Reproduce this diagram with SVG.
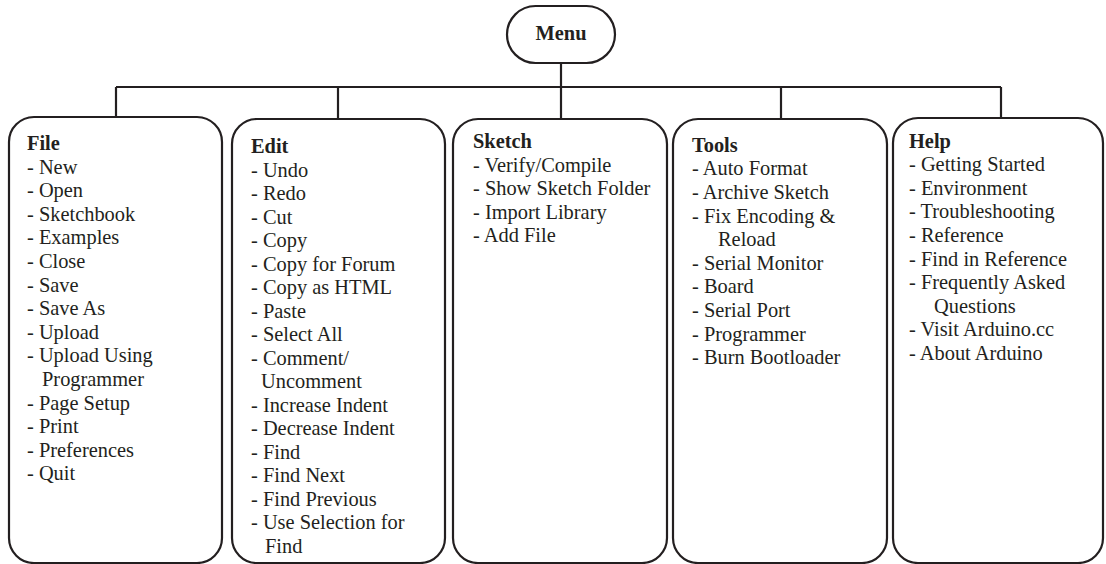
<svg xmlns="http://www.w3.org/2000/svg" width="1106" height="564" viewBox="0 0 1106 564">
  <style>
    .box { fill: #ffffff; stroke: #231f20; stroke-width: 2.2; }
    .wire { fill: none; stroke: #231f20; stroke-width: 2.2; }
    .t { font-family: "Liberation Serif", "Times New Roman", serif; font-size: 20.4px; fill: #231f20; }
    .h { font-weight: bold; }
  </style>
  <rect width="1106" height="564" fill="#ffffff"/>

  <!-- connectors: root stem, bus line and drops to each menu -->
  <g id="connectors" class="wire">
    <line x1="561" y1="63" x2="561" y2="118"/>
    <line x1="116" y1="87" x2="1001" y2="87"/>
    <line x1="116" y1="87" x2="116" y2="117"/>
    <line x1="338" y1="87" x2="338" y2="118"/>
    <line x1="781" y1="87" x2="781" y2="118"/>
    <line x1="1001" y1="87" x2="1001" y2="118"/>
  </g>

  <g id="menu">
    <rect class="box" x="507" y="6" width="108" height="57" rx="28.5" ry="28.5"/>
    <text class="t h" x="561" y="40" text-anchor="middle">Menu</text>
  </g>

  <g id="file">
    <rect class="box" x="9" y="117" width="213" height="446" rx="25" ry="25"/>
    <text class="t" y="150">
      <tspan x="27" class="h">File</tspan>
      <tspan x="27" dy="23.6">- New</tspan>
      <tspan x="27" dy="23.6">- Open</tspan>
      <tspan x="27" dy="23.6">- Sketchbook</tspan>
      <tspan x="27" dy="23.6">- Examples</tspan>
      <tspan x="27" dy="23.6">- Close</tspan>
      <tspan x="27" dy="23.6">- Save</tspan>
      <tspan x="27" dy="23.6">- Save As</tspan>
      <tspan x="27" dy="23.6">- Upload</tspan>
      <tspan x="27" dy="23.6">- Upload Using</tspan>
      <tspan x="42" dy="23.6">Programmer</tspan>
      <tspan x="27" dy="23.6">- Page Setup</tspan>
      <tspan x="27" dy="23.6">- Print</tspan>
      <tspan x="27" dy="23.6">- Preferences</tspan>
      <tspan x="27" dy="23.6">- Quit</tspan>
    </text>
  </g>

  <g id="edit">
    <rect class="box" x="232" y="119" width="213" height="444" rx="25" ry="25"/>
    <text class="t" y="153.3">
      <tspan x="251" class="h">Edit</tspan>
      <tspan x="251" dy="23.5">- Undo</tspan>
      <tspan x="251" dy="23.5">- Redo</tspan>
      <tspan x="251" dy="23.5">- Cut</tspan>
      <tspan x="251" dy="23.5">- Copy</tspan>
      <tspan x="251" dy="23.5">- Copy for Forum</tspan>
      <tspan x="251" dy="23.5">- Copy as HTML</tspan>
      <tspan x="251" dy="23.5">- Paste</tspan>
      <tspan x="251" dy="23.5">- Select All</tspan>
      <tspan x="251" dy="23.5">- Comment/</tspan>
      <tspan x="261" dy="23.5">Uncomment</tspan>
      <tspan x="251" dy="23.5">- Increase Indent</tspan>
      <tspan x="251" dy="23.5">- Decrease Indent</tspan>
      <tspan x="251" dy="23.5">- Find</tspan>
      <tspan x="251" dy="23.5">- Find Next</tspan>
      <tspan x="251" dy="23.5">- Find Previous</tspan>
      <tspan x="251" dy="23.5">- Use Selection for</tspan>
      <tspan x="265" dy="23.5">Find</tspan>
    </text>
  </g>

  <g id="sketch">
    <rect class="box" x="453" y="119" width="214" height="444" rx="25" ry="25"/>
    <text class="t" y="148.3">
      <tspan x="473" class="h">Sketch</tspan>
      <tspan x="473" dy="23.4">- Verify/Compile</tspan>
      <tspan x="473" dy="23.4">- Show Sketch Folder</tspan>
      <tspan x="473" dy="23.4">- Import Library</tspan>
      <tspan x="473" dy="23.4">- Add File</tspan>
    </text>
  </g>

  <g id="tools">
    <rect class="box" x="673" y="119" width="214" height="444" rx="25" ry="25"/>
    <text class="t" y="151.7">
      <tspan x="692" class="h">Tools</tspan>
      <tspan x="692" dy="23.6">- Auto Format</tspan>
      <tspan x="692" dy="23.6">- Archive Sketch</tspan>
      <tspan x="692" dy="23.6">- Fix Encoding &amp;</tspan>
      <tspan x="718" dy="23.6">Reload</tspan>
      <tspan x="692" dy="23.6">- Serial Monitor</tspan>
      <tspan x="692" dy="23.6">- Board</tspan>
      <tspan x="692" dy="23.6">- Serial Port</tspan>
      <tspan x="692" dy="23.6">- Programmer</tspan>
      <tspan x="692" dy="23.6">- Burn Bootloader</tspan>
    </text>
  </g>

  <g id="help">
    <rect class="box" x="893" y="118" width="210" height="445" rx="25" ry="25"/>
    <text class="t" y="147.5">
      <tspan x="909" class="h">Help</tspan>
      <tspan x="909" dy="23.6">- Getting Started</tspan>
      <tspan x="909" dy="23.6">- Environment</tspan>
      <tspan x="909" dy="23.6">- Troubleshooting</tspan>
      <tspan x="909" dy="23.6">- Reference</tspan>
      <tspan x="909" dy="23.6">- Find in Reference</tspan>
      <tspan x="909" dy="23.6">- Frequently Asked</tspan>
      <tspan x="934" dy="23.6">Questions</tspan>
      <tspan x="909" dy="23.6">- Visit Arduino.cc</tspan>
      <tspan x="909" dy="23.6">- About Arduino</tspan>
    </text>
  </g>
</svg>
